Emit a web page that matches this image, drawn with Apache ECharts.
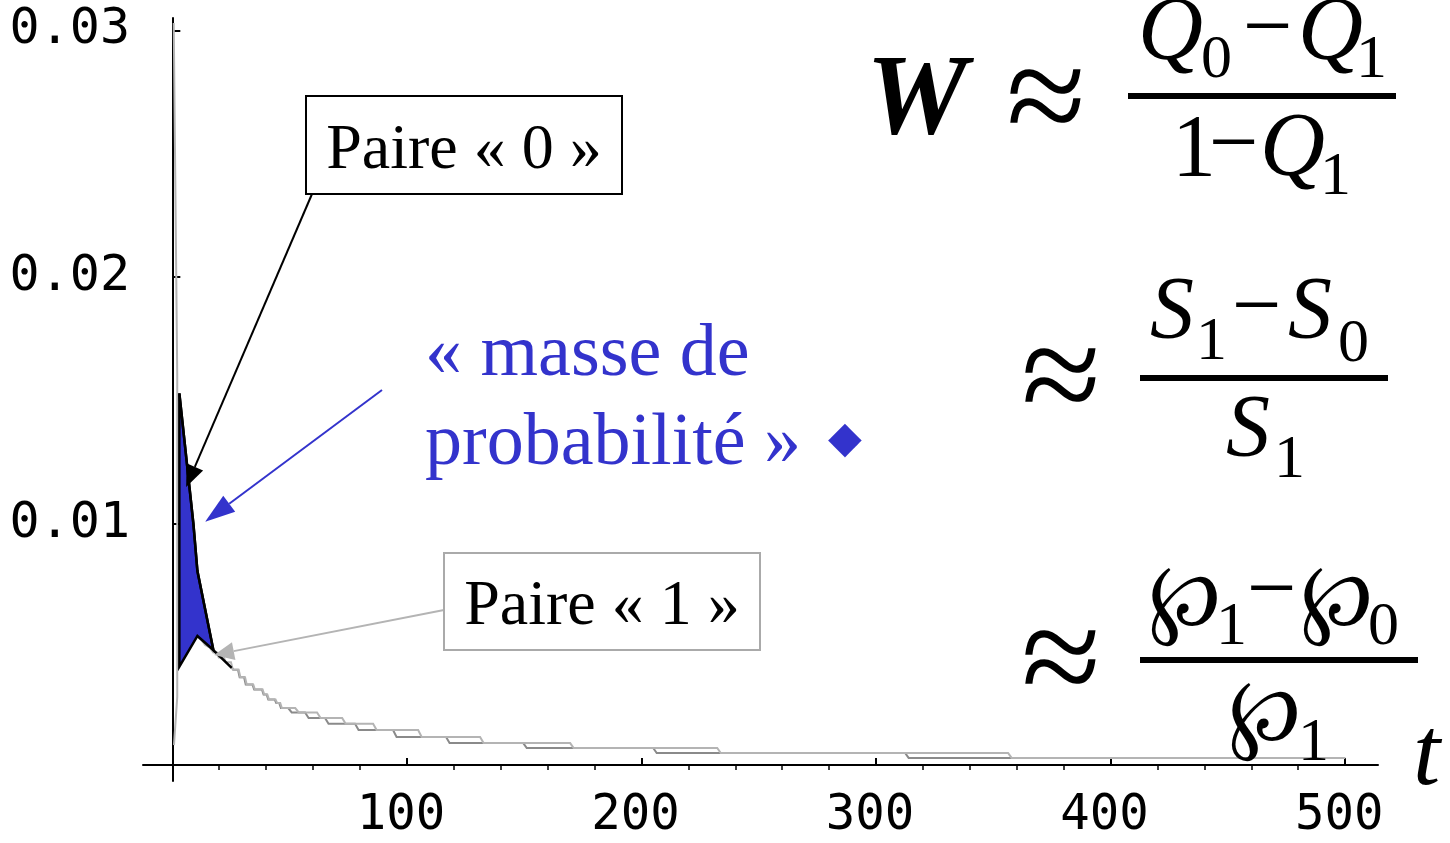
<!DOCTYPE html>
<html>
<head>
<meta charset="utf-8">
<script src="https://cdn.jsdelivr.net/npm/echarts@6/dist/echarts.min.js"></script>
<style>
  html, body { margin: 0; padding: 0; background: #fff; }
  #chart { width: 1450px; height: 843px; }
</style>
</head>
<body>
<div id="chart"></div>
<script>
// Axis ticks and labels
const xTickValues = [100, 200, 300, 400, 500];
const xTickLabels = ['100', '200', '300', '400', '500'];
const xMinorTickValues = [20, 40, 60, 80, 120, 140, 160, 180, 220, 240, 260, 280,
                          320, 340, 360, 380, 420, 440, 460, 480];
const yTickValues = [0.01, 0.02, 0.03];
const yTickLabels = ['0.01', '0.02', '0.03'];

// Paire « 1 » : early spike near t = 0
const paire1Head = [[0.7, 0.00105], [2.1, 0.0030], [2.1, 0.0160], [0.6, 0.0303]];

// Paire « 0 » : early part (black)
const paire0Head = [[3.0, 0.0153], [9.0, 0.0100], [10.7, 0.0081], [17.5, 0.0049], [25.3, 0.00418]];

// « masse de probabilité » between the two pairs
const masseArea = [[3.0, 0.0153], [9.0, 0.0100], [10.7, 0.0081], [17.5, 0.0049],
                   [10.7, 0.00547], [3.0, 0.00423]];

// Paire « 0 » : staircase tail
const paire0Tail = [
  [25.3, 0.00418], [26.2, 0.0041], [28.0, 0.0041], [28.7, 0.0038], [30.6, 0.0038], [31.3, 0.0035],
  [34.2, 0.0035], [34.9, 0.0033], [38.2, 0.0033], [38.9, 0.0031], [40.2, 0.0031], [40.9, 0.0029],
  [43.6, 0.0029], [44.3, 0.00275], [45.6, 0.00275], [46.3, 0.00255],
  [49.4, 0.00255], [50.9, 0.00237],
  [56.6, 0.00237], [58.1, 0.00215],
  [65.1, 0.00215], [66.6, 0.00191],
  [77.9, 0.00191], [79.4, 0.00166],
  [94.1, 0.00166], [95.6, 0.00138],
  [116.7, 0.00138], [118.2, 0.00113],
  [149.6, 0.00113], [151.1, 0.00093],
  [205.0, 0.00093], [206.5, 0.00073],
  [312.4, 0.00073], [313.9, 0.00053],
  [500.0, 0.00053]
];

// Paire « 1 » : staircase tail
const paire1Tail = [
  [10.7, 0.00547], [12.5, 0.0053], [14.0, 0.0051], [16.0, 0.0050], [17.5, 0.0048], [19.0, 0.0048],
  [19.8, 0.0046], [22.0, 0.0046], [22.8, 0.0044], [25.0, 0.0044], [25.8, 0.0041], [28.3, 0.0041],
  [29.0, 0.0038], [31.0, 0.0038], [31.7, 0.0035], [34.5, 0.0035], [35.2, 0.0033], [38.5, 0.0033],
  [39.2, 0.0031], [40.5, 0.0031], [41.2, 0.0029], [44.0, 0.0029], [44.7, 0.00275], [46.0, 0.00275],
  [46.7, 0.00255],
  [52.4, 0.00255], [53.9, 0.00237],
  [61.7, 0.00237], [63.2, 0.00215],
  [72.4, 0.00215], [73.9, 0.00191],
  [85.6, 0.00191], [87.1, 0.00166],
  [104.8, 0.00166], [106.3, 0.00138],
  [131.2, 0.00138], [132.7, 0.00113],
  [169.6, 0.00113], [171.1, 0.00093],
  [232.3, 0.00093], [233.8, 0.00073],
  [356.3, 0.00073], [357.8, 0.00053],
  [500.0, 0.00053]
];

const BLUE = '#3333cc';
const LIGHT = '#b4b4b4';
const DARK = '#8a8a8a';
const SERIF = '"Liberation Serif", "DejaVu Serif", serif';
const MONO = '"DejaVu Sans Mono", monospace';

const chart = echarts.init(document.getElementById('chart'), null, { renderer: 'canvas' });

function lineSeries(name, data, color, width, z) {
  return {
    name, type: 'line', data, xAxisIndex: 0, yAxisIndex: 0,
    symbol: 'none', smooth: false, clip: false, z,
    lineStyle: { color, width, join: 'miter' },
    emphasis: { disabled: true }
  };
}

chart.setOption({
  animation: false,
  backgroundColor: '#fff',
  grid: { left: 143, right: 72, top: 18, bottom: 62, containLabel: false, outerBoundsMode: 'none' },
  xAxis: [
    {
      type: 'value', min: -12.5, max: 514, position: 'bottom', offset: -16,
      axisLine: { onZero: false, lineStyle: { color: '#000', width: 2 } },
      splitLine: { show: false },
      axisTick: { customValues: xTickValues, inside: true, length: 7, lineStyle: { color: '#000', width: 2 } },
      axisLabel: {
        customValues: xTickValues, margin: 27, color: '#000',
        fontFamily: MONO, fontSize: 49, padding: [0, 12, 0, 0],
        formatter: v => xTickLabels[xTickValues.indexOf(v)]
      }
    },
    {
      type: 'value', min: -12.5, max: 514, position: 'bottom', offset: -16,
      axisLine: { show: false }, splitLine: { show: false },
      axisTick: { customValues: xMinorTickValues, inside: false, length: 5, lineStyle: { color: '#000', width: 1.5 } },
      axisLabel: { show: false }
    }
  ],
  yAxis: {
    type: 'value', min: -0.000405, max: 0.0305,
    axisLine: { onZero: true, onZeroAxisIndex: 0, lineStyle: { color: '#000', width: 2 } },
    splitLine: { show: false },
    axisTick: { customValues: yTickValues, inside: true, length: 8, lineStyle: { color: '#000', width: 2 } },
    axisLabel: {
      customValues: yTickValues, margin: 13, color: '#000',
      fontFamily: MONO, fontSize: 50,
      formatter: v => yTickLabels[yTickValues.findIndex(t => Math.abs(t - v) < 1e-9)]
    }
  },
  series: [
    lineSeries('Paire 1 début', paire1Head, LIGHT, 2, 2),
    lineSeries('Paire 0 suite', paire0Tail, DARK, 2, 3),
    lineSeries('Paire 1 suite', paire1Tail, LIGHT, 2, 4),
    {
      name: 'masse de probabilité', type: 'custom', xAxisIndex: 0, yAxisIndex: 0,
      data: [masseArea[0]], clip: false, z: 5,
      renderItem: (params, api) => ({
        type: 'polygon',
        shape: { points: masseArea.map(p => api.coord(p)) },
        style: { fill: BLUE, stroke: '#000', lineWidth: 2.5, lineJoin: 'miter' }
      })
    },
    lineSeries('Paire 0', paire0Head, '#000', 2.5, 6)
  ]
});

// ---- annotations ----
const toPx = p => chart.convertToPixel({ xAxisIndex: 0, yAxisIndex: 0 }, p);

function arrow(from, tip, color, headLen, headHalf, width) {
  const dx = tip[0] - from[0], dy = tip[1] - from[1];
  const len = Math.hypot(dx, dy);
  const ux = dx / len, uy = dy / len;
  const bx = tip[0] - ux * headLen, by = tip[1] - uy * headLen;
  const nx = -uy, ny = ux;
  return [
    { type: 'line', silent: true, z: 20,
      shape: { x1: from[0], y1: from[1], x2: bx, y2: by },
      style: { stroke: color, lineWidth: width } },
    { type: 'polygon', silent: true, z: 21,
      shape: { points: [tip, [bx + nx * headHalf, by + ny * headHalf], [bx - nx * headHalf, by - ny * headHalf]] },
      style: { fill: color } }
  ];
}

function txt(t, x, base, size, opts = {}) {
  return {
    type: 'text', silent: true, z: 30,
    x, y: base - 0.34 * size,
    style: {
      text: t, fill: opts.fill || '#000',
      fontFamily: opts.family || SERIF, fontSize: size,
      fontStyle: opts.italic ? 'italic' : 'normal',
      fontWeight: opts.bold ? 'bold' : 'normal',
      align: opts.align || 'left', verticalAlign: 'middle'
    }
  };
}

function bar(x1, x2, y, h) {
  return { type: 'rect', silent: true, z: 30, shape: { x: x1, y: y - h / 2, width: x2 - x1, height: h }, style: { fill: '#000' } };
}

const M = 88, S = 62;
const it = { italic: true };

const graphics = [
  // label boxes
  { type: 'rect', z: 25, shape: { x: 306, y: 96, width: 316, height: 98 }, style: { fill: '#fff', stroke: '#000', lineWidth: 2 } },
  { type: 'text', z: 26, x: 464, y: 151, style: { text: 'Paire « 0 »', fontFamily: SERIF, fontSize: 64, fill: '#000', align: 'center', verticalAlign: 'middle' } },
  { type: 'rect', z: 25, shape: { x: 444, y: 553, width: 316, height: 97 }, style: { fill: '#fff', stroke: '#aaaaaa', lineWidth: 2 } },
  { type: 'text', z: 26, x: 602, y: 607, style: { text: 'Paire « 1 »', fontFamily: SERIF, fontSize: 64, fill: '#000', align: 'center', verticalAlign: 'middle' } },

  // blue caption
  txt('« masse de', 425, 381, 74, { fill: BLUE }),
  txt('probabilité »', 425, 470, 74, { fill: BLUE }),
  { type: 'text', z: 30, x: 845, y: 441, style: { text: '◆', fontFamily: '"DejaVu Sans"', fontSize: 44, fill: BLUE, align: 'center', verticalAlign: 'middle' } },

  ...arrow([312, 194], toPx([5.9, 0.0115]), '#000', 22, 9, 2),
  ...arrow([382, 390], toPx([14.0, 0.0101]), BLUE, 30, 10, 2),
  ...arrow([444, 610], toPx([17.8, 0.0047]), LIGHT, 20, 9, 2),

  // W ≈ (Q0 − Q1)/(1 − Q1)
  txt('W', 866, 142, 114, { italic: true, bold: true }),
  txt('≈', 1046, 155, 145, { align: 'center' }),
  txt('Q', 1138, 66, 90, it), txt('0', 1201, 82, S), txt('−', 1243, 62, M),
  txt('Q', 1298, 66, 90, it), txt('1', 1356, 82, S),
  bar(1128, 1396, 96, 6),
  txt('1', 1172, 182, M), txt('−', 1209, 178, M),
  txt('Q', 1260, 182, 90, it), txt('1', 1320, 199, S),

  // ≈ (S1 − S0)/S1
  txt('≈', 1061, 434, 145, { align: 'center' }),
  txt('S', 1150, 344, M, it), txt('1', 1196, 364, S), txt('−', 1232, 341, M),
  txt('S', 1288, 344, M, it), txt('0', 1338, 366, S),
  bar(1140, 1388, 378, 6),
  txt('S', 1226, 462, M, it), txt('1', 1274, 482, S),

  // ≈ (℘1 − ℘0)/℘1
  txt('≈', 1061, 716, 145, { align: 'center' }),
  txt('℘', 1148, 632, M), txt('1', 1216, 649, S), txt('−', 1247, 624, M),
  txt('℘', 1300, 632, M), txt('0', 1368, 649, S),
  bar(1140, 1418, 660, 6),
  txt('℘', 1228, 747, M), txt('1', 1298, 765, S),

  // axis name
  txt('t', 1413, 792, 98, it)
];

chart.setOption({ graphic: graphics });
</script>
</body>
</html>
